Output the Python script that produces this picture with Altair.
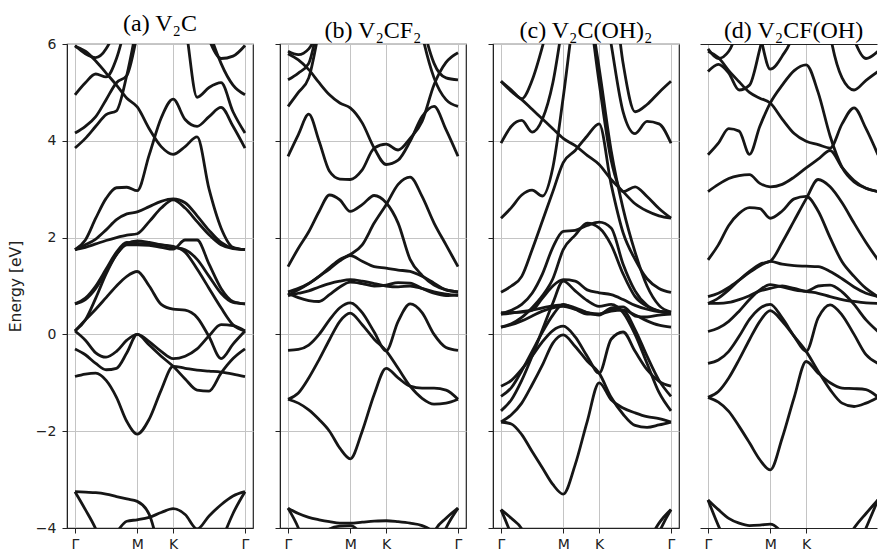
import altair as alt
import pandas as pd

# k-path distance of the sampled points (Γ -> M -> K -> Γ)
K_PATH = [0.0, 0.0962, 0.1925, 0.2887, 0.3849, 0.4811, 0.5774, 0.6885, 0.7996, 0.9107,
          1.0218, 1.1329, 1.2440, 1.3551, 1.4662, 1.5773]
K_TICKS = [0.0, 0.5774, 0.9107, 1.5773]
K_LABELS = ["Γ", "M", "K", "Γ"]
E_TICKS = [-4, -2, 0, 2, 4, 6]
PANEL_KEYS = ["a", "b", "c", "d"]
PANEL_TITLES = ["(a) V₂C", "(b) V₂CF₂", "(c) V₂C(OH)₂", "(d) V₂CF(OH)"]

# ---------------- (a) V2C ----------------
BANDS_A = {
    "a1": [-0.87, -0.82, -0.80, -0.95, -1.30, -1.80, -2.06, -1.75, -1.15, -0.66, -0.70, -0.74, -0.76, -0.78, -0.82, -0.87],
    "a2": [-0.30, -0.42, -0.60, -0.73, -0.70, -0.38, 0.00, -0.22, -0.45, -0.66, -0.92, -1.15, -1.17, -0.80, -0.50, -0.30],
    "a3": [0.07, -0.12, -0.38, -0.47, -0.35, -0.12, 0.00, -0.15, -0.35, -0.50, -0.45, -0.30, -0.03, 0.20, 0.18, 0.07],
    "a4": [0.07, 0.30, 0.52, 0.76, 1.00, 1.20, 1.30, 1.00, 0.62, 0.52, 0.50, 0.35, -0.05, -0.50, -0.20, 0.07],
    "a5": [0.63, 0.72, 0.95, 1.30, 1.65, 1.85, 1.85, 1.84, 1.80, 1.76, 1.95, 1.95, 1.45, 0.95, 0.68, 0.63],
    "a6": [0.63, 0.75, 1.00, 1.35, 1.70, 1.90, 1.88, 1.87, 1.85, 1.80, 1.75, 1.55, 1.20, 0.85, 0.66, 0.63],
    "a7": [0.07, 0.30, 0.75, 1.25, 1.65, 1.88, 1.93, 1.90, 1.85, 1.82, 1.70, 1.35, 0.95, 0.55, 0.20, 0.07],
    "c1": [1.75, 1.80, 1.87, 1.94, 2.00, 2.05, 2.08, 2.33, 2.61, 2.78, 2.61, 2.33, 2.06, 1.85, 1.77, 1.75],
    "c2": [1.75, 1.85, 1.97, 2.16, 2.37, 2.49, 2.53, 2.64, 2.75, 2.80, 2.72, 2.45, 2.15, 1.90, 1.78, 1.75],
    "c3": [1.75, 1.95, 2.40, 2.81, 3.03, 3.04, 2.97, 3.71, 4.47, 4.86, 4.44, 4.30, 4.50, 4.69, 4.30, 3.85],
    "d1": [5.95, 5.85, 5.65, 5.40, 5.15, 4.88, 4.70, 4.25, 3.88, 3.72, 3.88, 4.08, 3.00, 2.20, 1.80, 1.75],
    "e1": [3.85, 4.05, 4.30, 4.54, 4.62, 5.36, 6.40, 7.50, 8.00, 8.00, 8.00, 8.00, 8.00, 8.00, 8.00, 8.00],
    "e2": [4.16, 4.30, 4.50, 4.85, 5.20, 5.35, 6.20, 7.50, 8.00, 8.00, 8.00, 8.00, 8.00, 8.00, 8.00, 8.00],
    "e3": [4.95, 5.20, 5.38, 5.32, 5.70, 6.50, 7.50, 8.00, 8.00, 8.00, 8.00, 8.00, 8.00, 8.00, 8.00, 8.00],
    "h1": [5.97, 5.80, 5.72, 5.90, 6.40, 7.50, 8.00, 8.00, 8.00, 8.00, 8.00, 8.00, 8.00, 8.00, 8.00, 8.00],
    "f1": [8.00, 8.00, 8.00, 8.00, 8.00, 8.00, 8.00, 8.00, 8.00, 7.20, 6.40, 4.90, 5.10, 5.20, 4.60, 4.16],
    "g1": [8.00, 8.00, 8.00, 8.00, 8.00, 8.00, 8.00, 8.00, 8.00, 8.00, 8.00, 7.50, 6.30, 5.60, 5.15, 4.95],
    "h2": [8.00, 8.00, 8.00, 8.00, 8.00, 8.00, 8.00, 8.00, 8.00, 8.00, 8.00, 7.00, 6.10, 5.70, 5.75, 5.97],
    "p1": [-3.25, -3.26, -3.27, -3.30, -3.35, -3.40, -3.45, -3.72, -4.60, -5.50, -6.00, -6.00, -6.00, -6.00, -6.00, -6.00],
    "p2": [-3.25, -3.62, -4.02, -4.60, -5.50, -6.00, -6.00, -6.00, -6.00, -6.00, -6.00, -6.00, -6.00, -6.00, -6.00, -6.00],
    "p3": [-6.00, -6.00, -5.50, -4.50, -4.10, -3.86, -3.83, -3.78, -3.68, -3.60, -3.72, -4.02, -3.75, -3.52, -3.34, -3.25],
    "p4": [-6.00, -6.00, -6.00, -6.00, -6.00, -6.00, -6.00, -6.00, -6.00, -6.00, -6.00, -6.00, -5.00, -4.30, -3.70, -3.25],
}

# ---------------- (b) V2CF2 ----------------
BANDS_B = {
    "q1": [-1.34, -1.42, -1.56, -1.76, -2.00, -2.35, -2.57, -2.00, -1.24, -0.70, -0.90, -1.07, -1.11, -1.11, -1.15, -1.34],
    "q2": [-1.34, -1.21, -0.90, -0.52, -0.11, 0.27, 0.44, 0.20, -0.10, -0.34, -0.70, -1.07, -1.32, -1.44, -1.42, -1.34],
    "q3": [-0.33, -0.31, -0.22, 0.00, 0.30, 0.55, 0.65, 0.45, 0.05, -0.34, 0.27, 0.63, 0.45, 0.00, -0.27, -0.33],
    "s1": [0.85, 0.76, 0.70, 0.68, 0.82, 0.98, 1.08, 1.05, 1.00, 1.02, 1.07, 1.06, 0.95, 0.85, 0.80, 0.82],
    "s2": [0.80, 0.85, 0.90, 0.98, 1.05, 1.10, 1.13, 1.10, 1.05, 1.00, 0.98, 1.00, 0.95, 0.88, 0.83, 0.80],
    "s3": [0.88, 0.95, 1.05, 1.20, 1.35, 1.52, 1.63, 1.51, 1.40, 1.37, 1.33, 1.30, 1.20, 1.06, 0.92, 0.88],
    "s4": [0.82, 0.92, 1.05, 1.20, 1.38, 1.55, 1.65, 1.85, 2.30, 2.68, 3.10, 3.25, 2.85, 2.30, 1.85, 1.40],
    "r1": [1.40, 1.78, 2.12, 2.54, 2.88, 2.78, 2.54, 2.68, 2.87, 2.72, 2.30, 1.55, 1.22, 1.02, 0.92, 0.88],
    "u1": [3.68, 4.13, 4.55, 3.99, 3.37, 3.21, 3.20, 3.40, 3.85, 3.93, 3.81, 4.05, 4.40, 5.16, 5.62, 5.82],
    "u2": [5.80, 5.67, 5.47, 5.20, 4.95, 4.78, 4.68, 4.37, 3.85, 3.51, 3.60, 3.99, 4.50, 4.71, 4.23, 3.68],
    "u3": [4.71, 5.00, 5.30, 6.30, 7.50, 8.00, 8.00, 8.00, 8.00, 8.00, 8.00, 8.00, 8.00, 8.00, 8.00, 8.00],
    "u4": [5.26, 5.40, 5.60, 6.50, 7.50, 8.00, 8.00, 8.00, 8.00, 8.00, 8.00, 8.00, 8.00, 8.00, 8.00, 8.00],
    "u5": [5.85, 5.78, 5.90, 6.40, 7.50, 8.00, 8.00, 8.00, 8.00, 8.00, 8.00, 8.00, 8.00, 8.00, 8.00, 8.00],
    "u6": [8.00, 8.00, 8.00, 8.00, 8.00, 8.00, 8.00, 8.00, 8.00, 8.00, 8.00, 8.00, 6.50, 5.60, 5.30, 5.26],
    "u8": [8.00, 8.00, 8.00, 8.00, 8.00, 8.00, 8.00, 8.00, 8.00, 8.00, 8.00, 7.50, 6.20, 5.30, 4.85, 4.71],
    "t1": [-3.59, -3.70, -3.78, -3.83, -3.87, -3.90, -3.90, -3.88, -3.86, -3.85, -3.87, -3.90, -3.95, -4.10, -4.50, -5.00],
    "t2": [-6.00, -6.00, -5.00, -4.30, -4.02, -3.96, -3.95, -4.20, -5.00, -6.00, -6.00, -6.00, -6.00, -6.00, -6.00, -6.00],
    "t3": [-3.59, -4.00, -4.60, -5.50, -6.00, -6.00, -6.00, -6.00, -6.00, -6.00, -6.00, -6.00, -6.00, -6.00, -6.00, -6.00],
    "t4": [-6.00, -6.00, -6.00, -6.00, -6.00, -6.00, -6.00, -6.00, -6.00, -6.00, -6.00, -6.00, -5.00, -4.10, -3.80, -3.59],
    "t5": [-6.00, -6.00, -6.00, -6.00, -6.00, -6.00, -6.00, -6.00, -6.00, -6.00, -6.00, -6.00, -6.00, -4.60, -4.00, -3.59],
}

# ---------------- (c) V2C(OH)2 ----------------
BANDS_C = {
    "w1": [-1.81, -1.85, -2.07, -2.42, -2.76, -3.10, -3.30, -2.69, -1.80, -1.00, -1.35, -1.52, -1.62, -1.70, -1.74, -1.81],
    "w2": [-1.81, -1.66, -1.42, -1.04, -0.63, -0.18, -0.01, -0.25, -0.55, -0.80, -1.30, -1.65, -1.88, -1.92, -1.87, -1.81],
    "w3": [-1.07, -0.95, -0.72, -0.45, -0.15, 0.08, 0.17, -0.05, -0.45, -0.80, -0.10, 0.05, -0.35, -0.73, -0.97, -1.07],
    "w4": [-1.28, -1.10, -0.75, -0.35, 0.05, 0.40, 0.62, 0.52, 0.42, 0.42, 0.52, 0.50, 0.10, -0.45, -0.95, -1.28],
    "w5": [-1.58, -1.35, -0.95, -0.45, 0.10, 0.65, 1.10, 0.90, 0.70, 0.58, 0.62, 0.45, 0.00, -0.60, -1.20, -1.58],
    "w6": [0.45, 0.45, 0.46, 0.50, 0.75, 1.00, 1.13, 1.10, 0.92, 0.86, 0.82, 0.72, 0.60, 0.52, 0.47, 0.46],
    "w7": [0.42, 0.44, 0.47, 0.50, 0.55, 0.59, 0.61, 0.55, 0.45, 0.40, 0.55, 0.57, 0.38, 0.36, 0.40, 0.42],
    "w8": [0.15, 0.20, 0.28, 0.38, 0.48, 0.55, 0.58, 0.52, 0.45, 0.42, 0.48, 0.50, 0.40, 0.28, 0.19, 0.15],
    "w9": [0.87, 1.00, 1.20, 1.75, 2.35, 2.95, 3.55, 3.80, 4.10, 4.35, 3.10, 2.10, 1.55, 1.15, 0.95, 0.87],
    "w10": [8.00, 8.00, 8.00, 8.00, 8.00, 8.00, 8.00, 8.00, 7.00, 5.50, 3.80, 2.60, 1.70, 1.00, 0.60, 0.46],
    "z1": [0.15, 0.22, 0.35, 0.55, 0.80, 1.15, 1.75, 2.05, 2.30, 2.20, 1.85, 1.25, 0.78, 0.58, 0.48, 0.45],
    "z2": [0.42, 0.50, 0.62, 0.85, 1.25, 1.80, 2.13, 2.15, 2.25, 2.32, 2.20, 1.45, 0.90, 0.60, 0.48, 0.44],
    "y1": [2.40, 2.62, 2.88, 2.98, 2.86, 3.45, 4.90, 6.80, 8.00, 8.00, 8.00, 8.00, 8.00, 8.00, 8.00, 8.00],
    "y2": [8.00, 8.00, 8.00, 8.00, 8.00, 8.00, 8.00, 8.00, 7.00, 5.20, 3.60, 2.95, 3.05, 2.85, 2.60, 2.40],
    "y3": [3.95, 4.30, 4.42, 4.18, 4.45, 5.20, 6.50, 8.00, 8.00, 8.00, 8.00, 8.00, 8.00, 8.00, 8.00, 8.00],
    "y4": [8.00, 8.00, 8.00, 8.00, 8.00, 8.00, 8.00, 8.00, 8.00, 7.50, 6.00, 4.60, 4.15, 4.40, 4.35, 3.95],
    "y5": [5.23, 5.02, 4.85, 4.65, 4.45, 4.25, 4.05, 3.90, 3.70, 3.51, 3.20, 2.95, 2.70, 2.55, 2.45, 2.40],
    "y6": [5.23, 5.05, 4.87, 5.25, 5.95, 6.80, 8.00, 8.00, 8.00, 8.00, 8.00, 8.00, 8.00, 8.00, 8.00, 8.00],
    "y7": [8.00, 8.00, 8.00, 8.00, 8.00, 8.00, 8.00, 8.00, 8.00, 8.00, 7.50, 5.60, 4.60, 4.75, 5.00, 5.23],
    "cb1": [-3.62, -3.80, -4.02, -4.60, -5.50, -6.00, -6.00, -6.00, -6.00, -6.00, -6.00, -6.00, -6.00, -6.00, -6.00, -6.00],
    "cb2": [-3.62, -4.15, -4.80, -5.50, -6.00, -6.00, -6.00, -6.00, -6.00, -6.00, -6.00, -6.00, -6.00, -6.00, -6.00, -6.00],
    "cb3": [-6.00, -6.00, -6.00, -6.00, -6.00, -6.00, -6.00, -6.00, -6.00, -6.00, -6.00, -6.00, -5.00, -4.35, -3.90, -3.62],
    "cb4": [-6.00, -6.00, -6.00, -6.00, -6.00, -6.00, -6.00, -6.00, -6.00, -6.00, -6.00, -6.00, -6.00, -4.80, -4.10, -3.62],
}

# ---------------- (d) V2CF(OH) ----------------
BANDS_D = {
    "d1": [-1.30, -1.40, -1.59, -1.90, -2.24, -2.59, -2.80, -2.14, -1.30, -0.56, -0.80, -1.00, -1.11, -1.12, -1.14, -1.30],
    "d2": [-1.30, -1.18, -0.90, -0.52, -0.11, 0.27, 0.49, 0.27, -0.04, -0.35, -0.76, -1.14, -1.42, -1.49, -1.42, -1.30],
    "d3": [-0.60, -0.53, -0.35, -0.04, 0.31, 0.54, 0.62, 0.34, -0.04, -0.35, 0.34, 0.61, 0.40, 0.00, -0.42, -0.60],
    "d4": [0.06, 0.13, 0.27, 0.48, 0.72, 0.92, 1.03, 0.98, 0.92, 0.89, 1.00, 1.02, 0.88, 0.62, 0.30, 0.06],
    "d5": [0.64, 0.75, 0.92, 1.12, 1.30, 1.45, 1.51, 1.90, 2.35, 2.80, 3.20, 3.05, 2.72, 2.30, 1.90, 1.54],
    "d6": [0.78, 0.85, 0.97, 1.12, 1.28, 1.42, 1.51, 1.45, 1.42, 1.41, 1.40, 1.30, 1.15, 0.98, 0.85, 0.78],
    "d7": [0.64, 0.64, 0.66, 0.72, 0.80, 0.90, 0.95, 1.00, 0.95, 0.89, 0.85, 0.78, 0.72, 0.68, 0.65, 0.64],
    "d8": [1.54, 1.85, 2.25, 2.50, 2.62, 2.60, 2.40, 2.55, 2.80, 2.85, 2.55, 2.00, 1.50, 1.20, 0.95, 0.78],
    "dt1": [5.85, 5.72, 5.45, 5.22, 5.00, 4.88, 4.78, 4.45, 4.15, 3.99, 3.92, 3.85, 4.35, 4.68, 4.25, 3.71],
    "dt2": [3.71, 3.95, 4.25, 4.20, 3.72, 4.30, 4.78, 5.15, 5.45, 5.57, 5.00, 4.10, 3.45, 3.15, 3.02, 2.95],
    "dt3": [2.95, 3.10, 3.22, 3.28, 3.30, 3.12, 3.05, 3.10, 3.25, 3.44, 3.62, 3.80, 3.45, 3.18, 3.02, 2.95],
    "dt4": [5.43, 5.58, 5.40, 5.05, 5.15, 5.90, 6.80, 8.00, 8.00, 8.00, 8.00, 8.00, 8.00, 8.00, 8.00, 8.00],
    "dt5": [8.00, 8.00, 8.00, 8.00, 7.00, 6.20, 5.48, 5.75, 6.30, 8.00, 8.00, 8.00, 8.00, 8.00, 8.00, 8.00],
    "dt6": [8.00, 8.00, 8.00, 8.00, 8.00, 8.00, 8.00, 8.00, 8.00, 8.00, 8.00, 6.20, 5.30, 5.05, 5.25, 5.43],
    "dt7": [8.00, 8.00, 8.00, 8.00, 8.00, 8.00, 8.00, 8.00, 8.00, 8.00, 8.00, 8.00, 7.00, 6.10, 5.70, 5.85],
    "dt8": [5.90, 5.70, 5.85, 6.50, 8.00, 8.00, 8.00, 8.00, 8.00, 8.00, 8.00, 8.00, 8.00, 8.00, 8.00, 8.00],
    "db1": [-3.42, -3.62, -3.80, -3.90, -3.95, -3.94, -3.92, -4.10, -4.50, -5.00, -6.00, -6.00, -6.00, -6.00, -6.00, -6.00],
    "db2": [-3.42, -3.95, -4.40, -5.00, -6.00, -6.00, -6.00, -6.00, -6.00, -6.00, -6.00, -6.00, -6.00, -6.00, -6.00, -6.00],
    "db3": [-6.00, -6.00, -6.00, -6.00, -6.00, -6.00, -6.00, -6.00, -6.00, -6.00, -6.00, -6.00, -4.40, -4.00, -3.70, -3.42],
    "db4": [-6.00, -6.00, -6.00, -6.00, -6.00, -6.00, -6.00, -6.00, -6.00, -6.00, -6.00, -6.00, -6.00, -4.60, -4.00, -3.42],
}

ALL_BANDS = {"a": BANDS_A, "b": BANDS_B, "c": BANDS_C, "d": BANDS_D}

rows = []
for key, bands in ALL_BANDS.items():
    for name, energies in bands.items():
        for k, e in zip(K_PATH, energies):
            rows.append({"panel": key, "band": name, "k": k, "E": e})
df = pd.DataFrame(rows)

label_expr = " : ".join(
    [f"abs(datum.value - {v}) < 0.01 ? '{lab}'" for v, lab in zip(K_TICKS[1:3], K_LABELS[1:3])]
) + f" : '{K_LABELS[0]}'"

PX_PER_K = 170 / 1.5773
FULL_W = 186
LAST_W = 177
X0 = -8 / PX_PER_K
LINE_COLOR = "#161616"
FRAME = "#222222"


def panel(i):
    key = PANEL_KEYS[i]
    first = i == 0
    last = i == 3
    width = LAST_W if last else FULL_W
    x_scale = alt.Scale(domain=[X0, X0 + width / PX_PER_K], nice=False, zero=False)
    y_scale = alt.Scale(domain=[-4, 6], nice=False, zero=False)
    y_axis = alt.Axis(
        values=E_TICKS, format="d", labels=first, title="Energy [eV]" if first else None,
        tickSize=5, labelPadding=6, titlePadding=12, grid=True,
    )
    x_axis = alt.Axis(
        values=K_TICKS[:3] if last else K_TICKS, labelExpr=label_expr, title=None,
        tickSize=5, labelPadding=4, grid=True,
    )
    base = alt.Chart(df).transform_filter(alt.datum.panel == key)
    lines = base.mark_line(
        color=LINE_COLOR, strokeWidth=2.8, interpolate="monotone", clip=True
    ).encode(
        x=alt.X("k:Q", scale=x_scale, axis=x_axis),
        y=alt.Y("E:Q", scale=y_scale, axis=y_axis),
        detail="band:N",
    )
    title = alt.TitleParams(
        PANEL_TITLES[i], font="Liberation Serif", fontSize=24, fontWeight="normal",
        color="#000000", baseline="alphabetic", offset=-18, dx=5 if last else 0,
    )
    if not last:
        return lines.properties(width=width, height=484, title=title)
    # last panel runs off the page on the right: frame only on top/left/bottom
    top_edge = base.mark_line(opacity=0, clip=True).encode(
        x=alt.X("k:Q", scale=x_scale,
                axis=alt.Axis(orient="top", labels=False, ticks=False, grid=False, domain=True, title=None)),
        y=alt.Y("E:Q", scale=y_scale, axis=None),
        detail="band:N",
    )
    return (
        alt.layer(lines, top_edge)
        .resolve_axis(x="independent")
        .properties(width=width, height=484, title=title, view={"stroke": "transparent"})
    )


chart = (
    alt.hconcat(*[panel(i) for i in range(4)], spacing=19)
    .properties(padding={"left": 7, "top": 11, "right": 0, "bottom": 0}, background="white")
    .configure_view(stroke=FRAME, strokeWidth=1.2)
    .configure_axis(
        domainColor=FRAME, tickColor=FRAME, gridColor="#c4c4c4", gridWidth=1,
        labelColor=FRAME, labelFont="DejaVu Sans", labelFontSize=14,
        titleFont="DejaVu Sans", titleFontSize=15.5, titleFontWeight="normal", titleColor=FRAME,
    )
)

chart.save("out.html", embed_options={"renderer": "svg", "actions": False})
